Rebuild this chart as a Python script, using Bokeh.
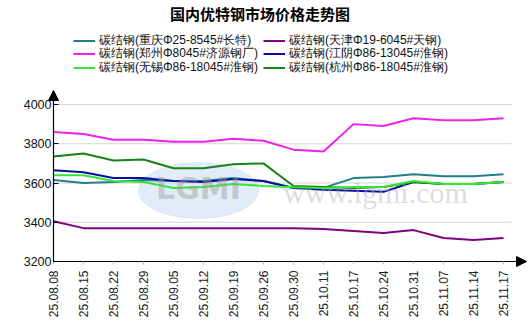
from bokeh.plotting import figure
from bokeh.models import (FixedTicker, Legend, LegendItem, Label, Arrow, NormalHead, Range1d)
from bokeh.embed import file_html
from bokeh.resources import INLINE

dates = ["25.08.08", "25.08.15", "25.08.22", "25.08.29", "25.09.05", "25.09.12",
         "25.09.19", "25.09.26", "25.09.30", "25.10.11", "25.10.17", "25.10.24",
         "25.10.31", "25.11.07", "25.11.14", "25.11.17"]

chongqing = [3615, 3600, 3605, 3615, 3610, 3610, 3625, 3610, 3575, 3575, 3625, 3630, 3645, 3635, 3635, 3645]
tianjin = [3405, 3370, 3370, 3370, 3370, 3370, 3370, 3370, 3370, 3365, 3355, 3345, 3360, 3320, 3310, 3320]
zhengzhou = [3860, 3850, 3820, 3820, 3810, 3810, 3825, 3815, 3770, 3760, 3900, 3890, 3930, 3920, 3920, 3930]
jiangyin = [3665, 3655, 3625, 3625, 3610, 3605, 3620, 3610, 3575, 3565, 3560, 3555, 3605, 3595, 3595, 3605]
wuxi = [3640, 3640, 3610, 3605, 3575, 3580, 3595, 3585, 3578, 3575, 3580, 3580, 3610, 3595, 3595, 3605]
hangzhou = [3735, 3750, 3715, 3720, 3675, 3675, 3695, 3700, 3585, 3580, 3575, 3580, 3605, 3595, 3595, 3605]

names = ["碳结钢(重庆Φ25-8545#长特)", "碳结钢(天津Φ19-6045#天钢)",
         "碳结钢(郑州Φ8045#济源钢厂)", "碳结钢(江阴Φ86-13045#淮钢)",
         "碳结钢(无锡Φ86-18045#淮钢)", "碳结钢(杭州Φ86-18045#淮钢)"]
y_ticks = [3200, 3400, 3600, 3800, 4000]
title_text = "国内优特钢市场价格走势图"

W, H = 531, 336
LEFT, GRID_RIGHT, TOP4000, BOTTOM = 53, 511, 104, 261
XSTEP = 30.0
ppu = (BOTTOM - TOP4000) / 800.0

def xd(px):
    return (px - LEFT) / XSTEP

def yd(py):
    return 3200 + (BOTTOM - py) / ppu

p = figure(width=W, height=H, output_backend="svg", toolbar_location=None,
           x_range=Range1d(xd(0), xd(W)), y_range=Range1d(yd(H), yd(0)),
           min_border_left=0, min_border_right=0,
           min_border_top=0, min_border_bottom=0)
p.outline_line_color = None
p.background_fill_color = "white"
p.border_fill_color = "white"

# axes
xs = list(range(len(dates)))
p.xaxis.fixed_location = 3200
p.xaxis.ticker = FixedTicker(ticks=xs)
p.xaxis.bounds = (0, xd(522))
p.xaxis.major_label_overrides = {i: d for i, d in enumerate(dates)}
p.xaxis.major_label_orientation = 1.5707963
p.xaxis.major_label_text_font = "Liberation Sans"
p.xaxis.major_label_text_font_size = "12px"
p.xaxis.major_label_text_color = "#222222"
p.xaxis.major_tick_out = 3
p.xaxis.major_tick_in = 0
p.xaxis.major_tick_line_color = "#bbbbbb"
p.xaxis.minor_tick_line_color = None
p.xaxis.major_label_standoff = 6
p.xaxis.axis_line_color = "black"
p.xaxis.axis_line_width = 1.2

p.yaxis.fixed_location = 0
p.yaxis.ticker = FixedTicker(ticks=y_ticks)
p.yaxis.bounds = (3200, yd(95))
p.yaxis.major_label_text_font = "Liberation Sans"
p.yaxis.major_label_text_font_size = "12.5px"
p.yaxis.major_label_text_color = "#111111"
p.yaxis.major_tick_in = 5
p.yaxis.major_tick_out = 0
p.yaxis.major_tick_line_color = "black"
p.yaxis.minor_tick_line_color = None
p.yaxis.major_label_standoff = 2
p.yaxis.axis_line_color = "black"
p.yaxis.axis_line_width = 1.2

p.xgrid.grid_line_color = None
p.ygrid.grid_line_color = None
grid_y = y_ticks[1:]
p.segment(x0=[0] * len(grid_y), y0=grid_y, x1=[xd(GRID_RIGHT)] * len(grid_y), y1=grid_y,
          line_color="#d4d4d4", line_width=1)

# watermark
p.ellipse(x=[xd(198)], y=[yd(190)], width=(120 / XSTEP), height=(56 / ppu),
          fill_color="#c9ddf2", fill_alpha=0.55, line_color="#c9ddf2", line_alpha=0.6)
p.add_layout(Label(x=xd(198), y=yd(188), text="LGMI", text_align="center",
                   text_baseline="middle", text_font="DejaVu Sans", text_font_style="bold",
                   text_font_size="30px", text_color="#9a9a9a", text_alpha=0.45))
p.add_layout(Label(x=xd(375), y=yd(192), text="www.lgmi.com", text_align="center",
                   text_baseline="middle", text_font="Liberation Serif",
                   text_font_size="30px", text_color="#b0b0b0", text_alpha=0.45))

colors = ["#21808a", "#800080", "#ee22ee", "#0b0ba8", "#33e633", "#148214"]
series = [chongqing, tianjin, zhengzhou, jiangyin, wuxi, hangzhou]
draw_order = [0, 1, 2, 3, 5, 4]
renderers = {}
for i in draw_order:
    renderers[i] = p.line(xs, series[i], line_color=colors[i], line_width=2)

# legend: one small legend per entry, two columns x three rows
col_x = [73, 263]
row_y = [41.5, 55.2, 68.9]
for k in range(len(names)):
    cx = col_x[k % 2]
    cy = row_y[k // 2]
    leg = Legend(items=[LegendItem(label=names[k], renderers=[renderers[k]])],
                 location=(cx, H - cy - 7), orientation="vertical",
                 glyph_width=22, glyph_height=13, label_height=13, spacing=0,
                 padding=0, margin=0, label_standoff=4,
                 label_text_font="Liberation Sans", label_text_font_size="12px",
                 label_text_color="#111111",
                 border_line_color=None, background_fill_alpha=0)
    p.add_layout(leg, "center")

# title
p.add_layout(Label(x=xd(259.5), y=yd(13), text=title_text, text_align="center",
                   text_baseline="middle", text_font="Noto Sans CJK SC",
                   text_font_style="bold", text_font_size="15px", text_color="black"))

# axis arrows
p.add_layout(Arrow(end=NormalHead(size=10, fill_color="black", line_color="black"),
                   x_start=0, y_start=4000, x_end=0, y_end=yd(90),
                   line_color="black", line_width=1.2))
p.add_layout(Arrow(end=NormalHead(size=10, fill_color="black", line_color="black"),
                   x_start=xd(GRID_RIGHT), y_start=3200, x_end=xd(526), y_end=3200,
                   line_color="black", line_width=1.2))

open("out.html", "w").write(file_html(p, INLINE))
